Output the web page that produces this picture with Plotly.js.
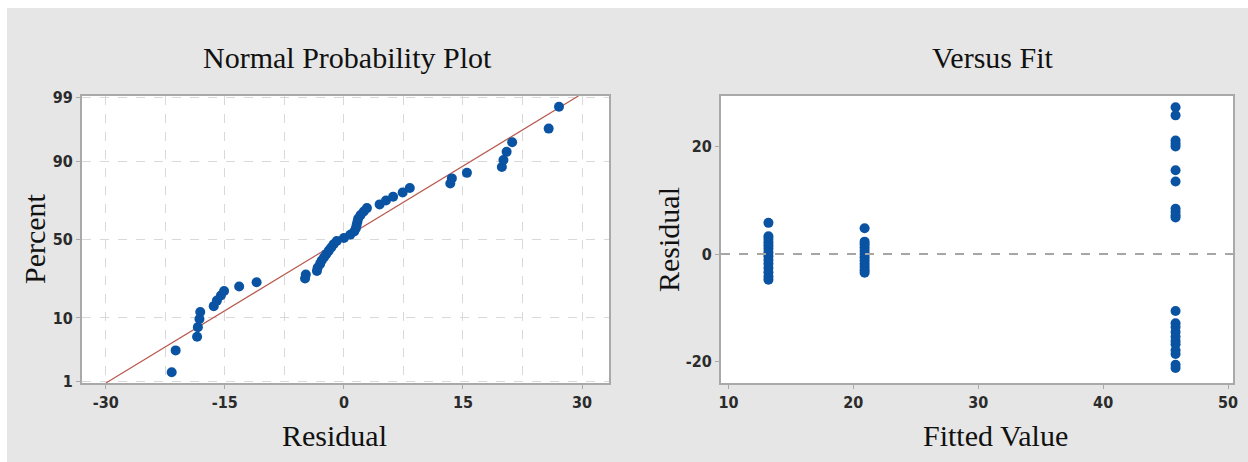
<!DOCTYPE html>
<html>
<head>
<meta charset="utf-8">
<script src="https://cdn.plot.ly/plotly-3.0.1.min.js"></script>
<style>
  html, body { margin: 0; padding: 0; background: #ffffff; width: 1248px; height: 462px; overflow: hidden; }
  #chart { position: absolute; left: 7px; top: 8px; width: 1241px; height: 454px; }
</style>
</head>
<body>
<div id="chart"></div>
<script>
// ---- Normal probability plot data ----
const probResiduals = [-21.7, -21.2, -18.5, -18.4, -18.2, -18.1, -16.4, -16.0, -15.5, -15.1,
  -13.2, -11.0, -4.9, -4.8, -3.4, -3.3, -3.0, -2.8, -2.5, -2.2,
  -1.9, -1.6, -1.3, -0.9, 0.0, 0.8, 1.3, 1.5, 1.6, 1.7,
  1.8, 2.1, 2.5, 2.9, 4.5, 5.3, 6.2, 7.4, 8.3, 13.4,
  13.6, 15.5, 19.9, 20.1, 20.5, 21.2, 25.8, 27.1];
const probPercents = [1.5, 3.5, 5.6, 7.6, 9.7, 11.8, 13.8, 15.9, 18.0, 20.0,
  22.1, 24.2, 26.2, 28.3, 30.4, 32.4, 34.5, 36.6, 38.6, 40.7,
  42.8, 44.8, 46.9, 49.0, 51.0, 53.1, 55.2, 57.2, 59.3, 61.4,
  63.4, 65.5, 67.6, 69.6, 71.7, 73.8, 75.8, 77.9, 80.0, 82.0,
  84.1, 86.2, 88.2, 90.3, 92.4, 94.4, 96.5, 98.5];
const percentTicks = [1, 10, 50, 90, 99];
const residualTicks = [-30, -15, 0, 15, 30];

// ---- Versus fit data ----
const groupFits = [13.2, 20.9, 45.8];
const group1Residuals = [5.8, 3.3, 2.8, 2.2, 1.6, 1.0, 0.3, -0.4, -1.1, -1.8, -2.6, -3.4, -4.2, -4.8];
const group2Residuals = [4.8, 2.3, 1.8, 1.2, 0.6, 0.0, -0.6, -1.2, -1.8, -2.4, -3.0, -3.5];
const group3Residuals = [27.3, 25.8, 21.1, 20.5, 20.0, 15.6, 13.5, 8.4, 7.8, 7.2, 6.8,
  -10.6, -12.9, -13.6, -14.5, -15.4, -16.2, -16.8, -17.9, -18.6, -20.6, -21.2];
const fitTicks = [10, 20, 30, 40, 50];
const fitResidualTicks = [-20, 0, 20];

// inverse standard normal CDF (Acklam) for the probability scale
function normInv(p) {
  const a = [-3.969683028665376e+01, 2.209460984245205e+02, -2.759285104469687e+02, 1.383577518672690e+02, -3.066479806614716e+01, 2.506628277459239e+00];
  const b = [-5.447609879822406e+01, 1.615858368580409e+02, -1.556989798598866e+02, 6.680131188771972e+01, -1.328068155288572e+01];
  const c = [-7.784894002430293e-03, -3.223964580411365e-01, -2.400758277161838e+00, -2.549732539343734e+00, 4.374664141464968e+00, 2.938163982698783e+00];
  const d = [7.784695709041462e-03, 3.224671290700398e-01, 2.445134137142996e+00, 3.754408661907416e+00];
  const pl = 0.02425, ph = 1 - pl;
  let q, r;
  if (p < pl) { q = Math.sqrt(-2 * Math.log(p)); return (((((c[0]*q+c[1])*q+c[2])*q+c[3])*q+c[4])*q+c[5]) / ((((d[0]*q+d[1])*q+d[2])*q+d[3])*q+1); }
  if (p <= ph) { q = p - 0.5; r = q*q; return (((((a[0]*r+a[1])*r+a[2])*r+a[3])*r+a[4])*r+a[5])*q / (((((b[0]*r+b[1])*r+b[2])*r+b[3])*r+b[4])*r+1); }
  q = Math.sqrt(-2 * Math.log(1 - p)); return -(((((c[0]*q+c[1])*q+c[2])*q+c[3])*q+c[4])*q+c[5]) / ((((d[0]*q+d[1])*q+d[2])*q+d[3])*q+1);
}

const probZ = probPercents.map(p => normInv(p / 100));
const tickZ = percentTicks.map(p => normInv(p / 100));
const n = probResiduals.length;
const mean = probResiduals.reduce((s, v) => s + v, 0) / n;
const sd = Math.sqrt(probResiduals.reduce((s, v) => s + (v - mean) * (v - mean), 0) / (n - 1));
const zRange = [-2.345, 2.345];

const vfX = [], vfY = [];
[group1Residuals, group2Residuals, group3Residuals].forEach((g, i) => {
  g.forEach(v => { vfX.push(groupFits[i]); vfY.push(v); });
});

const BLUE = '#0a53a3';
const LINE_RED = '#b85a50';
const AXIS_GRAY = '#a9a9a9';
const GRID = '#d9d9d9';
const tickFont = { family: 'Liberation Sans Narrow, DejaVu Sans Condensed, Arial Narrow, sans-serif', size: 16, color: '#2b2b2b', weight: 'bold' };
const serif = 'Liberation Serif, Times New Roman, serif';
const titleFont = { family: serif, size: 30, color: '#111' };

const W = 1241, H = 454, OX = 7, OY = 8;
const px = x => (x - OX) / W;
const py = y => 1 - (y - OY) / H;

const traces = [
  { x: zRange.map(z => mean + sd * z), y: zRange, xaxis: 'x', yaxis: 'y', mode: 'lines',
    line: { color: LINE_RED, width: 1.2 }, hoverinfo: 'skip', showlegend: false },
  { x: probResiduals, y: probZ, xaxis: 'x', yaxis: 'y', mode: 'markers',
    marker: { color: BLUE, size: 10 }, showlegend: false },
  { x: vfX, y: vfY, xaxis: 'x2', yaxis: 'y2', mode: 'markers',
    marker: { color: BLUE, size: 10 }, showlegend: false }
];

const layout = {
  width: W, height: H,
  margin: { l: 0, r: 0, t: 0, b: 0 },
  paper_bgcolor: '#e6e6e6',
  plot_bgcolor: '#ffffff',
  showlegend: false,
  xaxis: {
    domain: [px(82), px(609)], anchor: 'y',
    range: [-33.0, 33.4], tickmode: 'array', tickvals: residualTicks, ticktext: residualTicks.map(String),
    showgrid: true, gridcolor: GRID, griddash: 'dash', gridwidth: 1,
    minor: { dtick: 7.5, tick0: 0, showgrid: true, gridcolor: GRID, griddash: 'dash', gridwidth: 1, ticks: '' },
    zeroline: false, showline: true, mirror: true, linecolor: AXIS_GRAY, linewidth: 2,
    ticks: 'outside', ticklen: 4, tickcolor: AXIS_GRAY, tickfont: tickFont
  },
  yaxis: {
    domain: [py(383), py(96)], anchor: 'x',
    range: zRange, tickmode: 'array', tickvals: tickZ, ticktext: percentTicks.map(String),
    showgrid: true, gridcolor: GRID, griddash: 'dash', gridwidth: 1,
    zeroline: false, showline: true, mirror: true, linecolor: AXIS_GRAY, linewidth: 2,
    ticks: 'outside', ticklen: 4, tickcolor: AXIS_GRAY, tickfont: tickFont
  },
  xaxis2: {
    domain: [px(721), px(1233)], anchor: 'y2',
    range: [9.4, 50.4], tickmode: 'array', tickvals: fitTicks, ticktext: fitTicks.map(String),
    showgrid: false, zeroline: false, showline: true, mirror: true, linecolor: AXIS_GRAY, linewidth: 2,
    ticks: 'outside', ticklen: 4, tickcolor: AXIS_GRAY, tickfont: tickFont
  },
  yaxis2: {
    domain: [py(383), py(96)], anchor: 'x2',
    range: [-24.0, 29.4], tickmode: 'array', tickvals: fitResidualTicks, ticktext: fitResidualTicks.map(String),
    showgrid: false, zeroline: false, showline: true, mirror: true, linecolor: AXIS_GRAY, linewidth: 2,
    ticks: 'outside', ticklen: 4, tickcolor: AXIS_GRAY, tickfont: tickFont
  },
  shapes: [
    { type: 'line', xref: 'x2 domain', yref: 'y2', x0: 0, x1: 1, y0: 0, y1: 0,
      line: { color: '#a6a6a6', width: 2, dash: 'dash' } }
  ],
  annotations: [
    { text: 'Normal Probability Plot', xref: 'paper', yref: 'paper', x: px(347), y: py(57), showarrow: false,
      xanchor: 'center', yanchor: 'middle', font: titleFont },
    { text: 'Versus Fit', xref: 'paper', yref: 'paper', x: px(993), y: py(57), showarrow: false,
      xanchor: 'center', yanchor: 'middle', font: titleFont },
    { text: 'Residual', xref: 'paper', yref: 'paper', x: px(334), y: py(435), showarrow: false,
      xanchor: 'center', yanchor: 'middle', font: titleFont },
    { text: 'Fitted Value', xref: 'paper', yref: 'paper', x: px(995), y: py(435), showarrow: false,
      xanchor: 'center', yanchor: 'middle', font: titleFont },
    { text: 'Percent', xref: 'paper', yref: 'paper', x: px(35), y: py(239), showarrow: false, textangle: -90,
      xanchor: 'center', yanchor: 'middle', font: titleFont },
    { text: 'Residual', xref: 'paper', yref: 'paper', x: px(668), y: py(240), showarrow: false, textangle: -90,
      xanchor: 'center', yanchor: 'middle', font: titleFont }
  ]
};

Plotly.newPlot('chart', traces, layout, { displayModeBar: false, staticPlot: true });
</script>
</body>
</html>
